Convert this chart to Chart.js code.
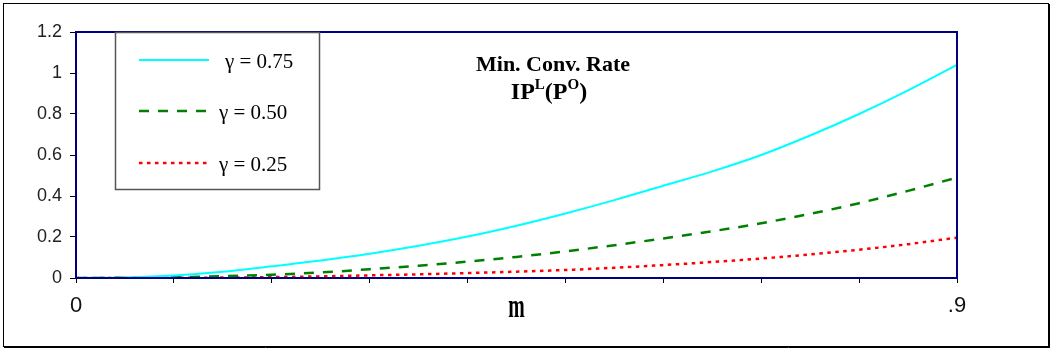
<!DOCTYPE html>
<html>
<head>
<meta charset="utf-8">
<script src="https://cdn.jsdelivr.net/npm/chart.js@4.4.1/dist/chart.umd.min.js"></script>
<style>
  html, body { margin: 0; padding: 0; background: #fff; }
  #wrap { width: 1052px; height: 351px; position: relative; }
</style>
</head>
<body>
<div id="wrap"><canvas id="c" width="1052" height="351"></canvas></div>
<script>
// m values along the horizontal axis
const mValues = [0, 0.05, 0.1, 0.15, 0.2, 0.25, 0.3, 0.35, 0.4, 0.45, 0.5, 0.55, 0.6, 0.65, 0.7, 0.75, 0.8, 0.85, 0.9];

// minimum conversion rate for each gamma
const gamma75 = [0, 0.003, 0.012, 0.03, 0.057, 0.085, 0.118, 0.157, 0.202, 0.255, 0.315, 0.38, 0.45, 0.52, 0.60, 0.695, 0.80, 0.915, 1.04];
const gamma50 = [0, 0.001, 0.004, 0.009, 0.016, 0.027, 0.043, 0.06, 0.08, 0.103, 0.13, 0.16, 0.193, 0.228, 0.267, 0.313, 0.365, 0.425, 0.49];
const gamma25 = [0, 0, 0.001, 0.002, 0.004, 0.008, 0.013, 0.018, 0.024, 0.031, 0.039, 0.05, 0.063, 0.078, 0.095, 0.115, 0.138, 0.165, 0.197];

const seriesLabels = ['\u03B3 = 0.75', '\u03B3 = 0.50', '\u03B3 = 0.25'];

// axis ticks
const xTickValues = [0, 0.1, 0.2, 0.3, 0.4, 0.5, 0.6, 0.7, 0.8, 0.9];
const xTickLabels = ['0', '', '', '', '', '', '', '', '', '.9'];
const yTickValues = [0, 0.2, 0.4, 0.6, 0.8, 1, 1.2];
const yTickLabels = ['0', '0.2', '0.4', '0.6', '0.8', '1', '1.2'];

const xAxisTitle = 'm';
const titleLine1 = 'Min. Conv. Rate';
const titleLine2 = [['IP', false], ['L', true], ['(P', false], ['O', true], [')', false]];

const NAVY = '#000080';
const SERIF = '"Liberation Serif", "Times New Roman", serif';
const SANS = '"Liberation Sans", Arial, sans-serif';

function pts(values) {
  return mValues.map((m, i) => ({ x: m, y: values[i] }));
}

// white page, outer frame
const pagePlugin = {
  id: 'page',
  beforeDraw(chart) {
    const ctx = chart.ctx;
    ctx.save();
    ctx.fillStyle = '#fff';
    ctx.fillRect(0, 0, chart.width, chart.height);
    ctx.restore();
  },
  afterDraw(chart) {
    const ctx = chart.ctx;
    ctx.save();
    ctx.strokeStyle = '#000';
    ctx.lineWidth = 1;
    ctx.strokeRect(3.5, 3.5, 1045, 343);
    ctx.beginPath();
    ctx.moveTo(1049.5, 4); ctx.lineTo(1049.5, 348);
    ctx.moveTo(4, 347.5); ctx.lineTo(1050, 347.5);
    ctx.stroke();
    ctx.restore();
  }
};

// plot frame, legend box, title and axis title
const decorPlugin = {
  id: 'decor',
  afterDatasetsDraw(chart) {
    const ctx = chart.ctx;
    const a = chart.chartArea;
    ctx.save();

    // frame around the plot area
    ctx.strokeStyle = NAVY;
    ctx.lineWidth = 2;
    ctx.strokeRect(a.left, a.top, a.right - a.left, a.bottom - a.top);

    // legend
    const bx = 115, by = a.top, bw = 204, bh = 157;
    ctx.fillStyle = '#fff';
    ctx.fillRect(bx, by, bw, bh);
    ctx.strokeStyle = '#555';
    ctx.lineWidth = 1.5;
    ctx.strokeRect(bx + 0.5, by + 0.5, bw, bh);
    const rowY = [60, 111, 163];
    const textX = [225, 219, 219];
    chart.data.datasets.forEach((ds, i) => {
      ctx.save();
      ctx.strokeStyle = ds.borderColor;
      ctx.lineWidth = ds.borderWidth;
      ctx.setLineDash(ds.borderDash || []);
      ctx.beginPath();
      ctx.moveTo(139, rowY[i]);
      ctx.lineTo(209, rowY[i]);
      ctx.stroke();
      ctx.restore();
      ctx.fillStyle = '#000';
      ctx.font = '21px ' + SERIF;
      ctx.textBaseline = 'alphabetic';
      ctx.textAlign = 'left';
      ctx.fillText(ds.label, textX[i], rowY[i] + 8);
    });

    // chart title, two lines
    ctx.fillStyle = '#000';
    ctx.textBaseline = 'alphabetic';
    ctx.textAlign = 'center';
    ctx.font = 'bold 22px ' + SERIF;
    ctx.fillText(titleLine1, 553, 71);

    const bigFont = 'bold 24px ' + SERIF;
    const supFont = 'bold 15px ' + SERIF;
    let total = 0;
    titleLine2.forEach(([t, sup]) => {
      ctx.font = sup ? supFont : bigFont;
      total += ctx.measureText(t).width;
    });
    let x = 549 - total / 2;
    ctx.textAlign = 'left';
    titleLine2.forEach(([t, sup]) => {
      ctx.font = sup ? supFont : bigFont;
      ctx.fillText(t, x, sup ? 89 : 99);
      x += ctx.measureText(t).width;
    });

    // horizontal axis title
    ctx.save();
    ctx.translate((a.left + a.right) / 2, 317);
    ctx.scale(0.6, 1);
    ctx.font = 'bold 33px ' + SERIF;
    ctx.textAlign = 'center';
    ctx.fillText(xAxisTitle, 0, 0);
    ctx.restore();

    ctx.restore();
  }
};

new Chart(document.getElementById('c'), {
  type: 'line',
  data: {
    datasets: [
      {
        label: seriesLabels[0],
        data: pts(gamma75),
        borderColor: '#00FFFF',
        borderWidth: 2,
        pointRadius: 0,
        cubicInterpolationMode: 'monotone'
      },
      {
        label: seriesLabels[1],
        data: pts(gamma50),
        borderColor: '#008000',
        borderWidth: 2.5,
        borderDash: [10, 9],
        pointRadius: 0,
        cubicInterpolationMode: 'monotone'
      },
      {
        label: seriesLabels[2],
        data: pts(gamma25),
        borderColor: '#FF0000',
        borderWidth: 2.5,
        borderDash: [3.5, 4.5],
        pointRadius: 0,
        cubicInterpolationMode: 'monotone'
      }
    ]
  },
  options: {
    responsive: false,
    animation: false,
    devicePixelRatio: 1,
    layout: { padding: { left: 0, top: 32, right: 95, bottom: 0 } },
    plugins: {
      legend: { display: false },
      tooltip: { enabled: false },
      title: { display: false }
    },
    scales: {
      x: {
        type: 'linear',
        min: 0,
        max: 0.9,
        afterBuildTicks(s) { s.ticks = xTickValues.map(v => ({ value: v })); },
        afterFit(s) { s.height = 73; },
        ticks: {
          autoSkip: false,
          maxRotation: 0,
          padding: 10,
          color: '#111',
          font: { family: SANS, size: 22 },
          callback: (v, i) => xTickLabels[i]
        },
        grid: {
          drawOnChartArea: false,
          drawTicks: true,
          tickLength: 5,
          color: '#000'
        },
        border: { display: true, color: NAVY, width: 2 }
      },
      y: {
        min: 0,
        max: 1.2,
        afterBuildTicks(s) { s.ticks = yTickValues.map(v => ({ value: v })); },
        afterFit(s) { s.width = 76; },
        ticks: {
          padding: 8,
          color: '#222',
          font: { family: SANS, size: 18 },
          callback: (v, i) => yTickLabels[i]
        },
        grid: {
          drawOnChartArea: false,
          drawTicks: true,
          tickLength: 6,
          color: '#000'
        },
        border: { display: true, color: NAVY, width: 2 }
      }
    }
  },
  plugins: [pagePlugin, decorPlugin]
});
</script>
</body>
</html>
